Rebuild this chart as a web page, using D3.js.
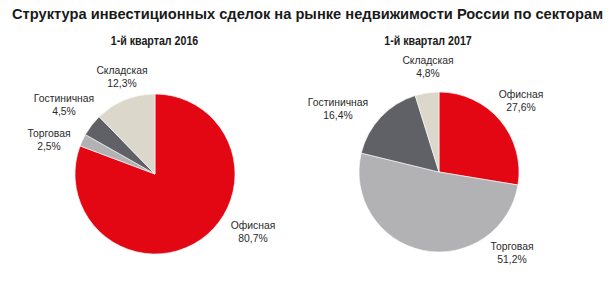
<!DOCTYPE html>
<html><head><meta charset="utf-8">
<script src="https://cdn.jsdelivr.net/npm/d3@7"></script>
<style>
body{margin:0;background:#fff;}
text{font-family:"Liberation Sans",Arial,sans-serif;fill:#1a1a1a;}
</style></head><body>
<svg id="c" width="616" height="291"></svg>
<script>
const title = "Структура инвестиционных сделок на рынке недвижимости России по секторам";
const sectors = ["Офисная","Торговая","Гостиничная","Складская"];
const colors = ["#E30613","#B2B2B4","#606166","#DCD7CB"];
const periods = ["1-й квартал 2016","1-й квартал 2017"];
const values2016 = [80.7, 2.5, 4.5, 12.3];
const values2017 = [27.6, 51.2, 16.4, 4.8];
const labels2016 = ["80,7%","2,5%","4,5%","12,3%"];
const labels2017 = ["27,6%","51,2%","16,4%","4,8%"];

const svg = d3.select("#c");
svg.append("text").attr("x",307.5).attr("y",19).attr("text-anchor","middle")
  .style("font-weight","bold").style("font-size","15px")
  .attr("textLength",591).attr("lengthAdjust","spacingAndGlyphs").text(title);

const pies = [
  {vals: values2016, labs: labels2016, cx:155, cy:174, tx:154.5,
   lpos:[[253,225],[49,133],[64,98],[122,70]]},
  {vals: values2017, labs: labels2017, cx:439, cy:172, tx:428,
   lpos:[[521,94],[512,246],[338,102],[428,60]]}
];
const r = 80;
const pie = d3.pie().sort(null).value(d=>d);
const arc = d3.arc().innerRadius(0).outerRadius(r);
const color = d3.scaleOrdinal().domain(sectors).range(colors);

pies.forEach((p,pi)=>{
  svg.append("text").attr("transform",`translate(${p.tx},45) scale(0.82,1)`).attr("text-anchor","middle")
    .style("font-weight","bold").style("font-size","13px").text(periods[pi]);
  const g = svg.append("g").attr("transform",`translate(${p.cx},${p.cy})`);
  g.selectAll("path").data(pie(p.vals)).join("path")
    .attr("d",arc).attr("fill",(d,i)=>color(sectors[i]))
    .attr("stroke","#fff").attr("stroke-width",0.6);
  p.lpos.forEach((lp,i)=>{
    const t = svg.append("text").attr("text-anchor","middle").style("font-size","11.5px")
      .attr("transform",`translate(${lp[0]},${lp[1]}) scale(0.9,1)`).style("fill","#2a2a2a");
    t.append("tspan").attr("x",0).attr("y",4).text(sectors[i]);
    t.append("tspan").attr("x",0).attr("y",17).text(p.labs[i]);
  });
});
</script></body></html>
